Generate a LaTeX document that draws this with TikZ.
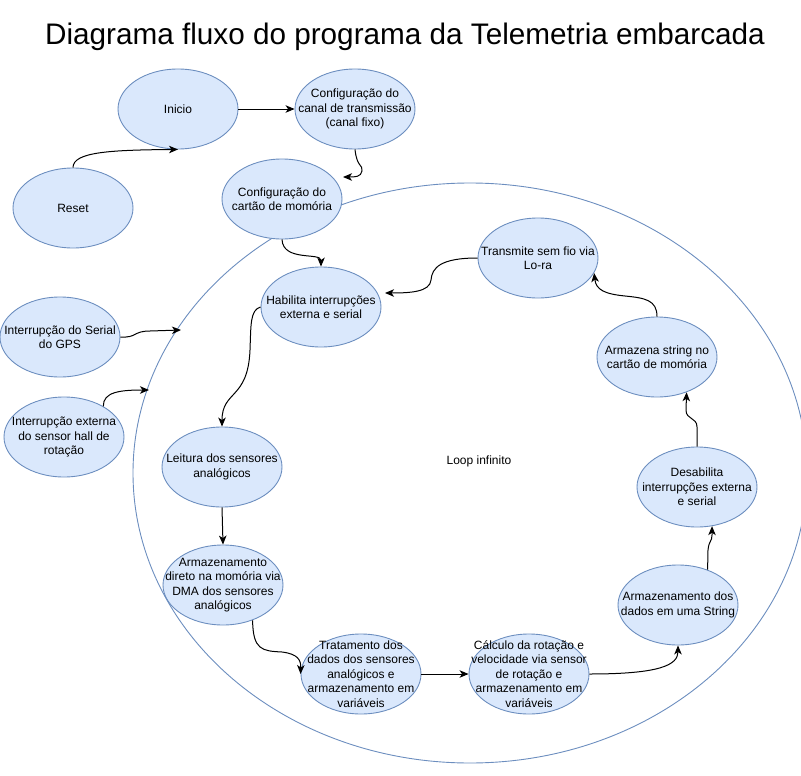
\documentclass[tikz,border=0pt]{standalone}
\usepackage{fontspec}
\setmainfont{Liberation Sans}
\usetikzlibrary{shapes.geometric,arrows.meta}
\definecolor{bfill}{HTML}{DAE8FC}
\definecolor{bstroke}{HTML}{6C8EBF}
\tikzset{
  bubble/.style={ellipse, draw=bstroke, fill=bfill, line width=0.9pt,
    minimum width=120pt, minimum height=80pt, inner sep=0pt,
    label={[align=center, inner sep=0pt, font=\fontsize{12}{14.4}\selectfont]center:#1}},
  conn/.style={draw=black, line width=1pt, -{Stealth[length=9pt,width=7.5pt,inset=2.5pt]}},
  bigloop/.style={ellipse, draw=bstroke, line width=0.9pt, minimum width=674pt, minimum height=580pt, inner sep=0pt},
}
\begin{document}
\begin{tikzpicture}[x=1pt,y=-1pt]
\useasboundingbox (0,0) rectangle (801,776);
\clip (0,0) rectangle (801,776);
\node[anchor=base, font=\fontsize{29.7}{34}\selectfont] (title) at (405,45) {Diagrama fluxo do programa da Telemetria embarcada};

\node[bubble={Armazenamento\\direto na momória via\\DMA dos sensores\\analógicos}] (arm) at (223,585) {};
\node[bigloop] (loop) at (470,473) {};
\node[font=\fontsize{12}{14.4}\selectfont] (looptxt) at (479,461) {Loop infinito};

\node[bubble={Inicio}] (inicio) at (178,109) {};
\node[bubble={Configuração do\\canal de transmissão\\(canal fixo)}] (canal) at (355,109) {};
\node[bubble={Configuração do\\cartão de momória}] (cartao) at (282,199) {};
\node[bubble={Reset}] (reset) at (73,208) {};
\node[bubble={Habilita interrupções\\externa e serial}] (hab) at (321,307) {};
\node[bubble={Interrupção do Serial\\do GPS}] (gps) at (60,337) {};
\node[bubble={Interrupção externa\\do sensor hall de\\rotação}] (ext) at (64,437) {};
\node[bubble={Leitura dos sensores\\analógicos}] (leit) at (222,467) {};
\node[bubble={Tratamento dos\\dados dos sensores\\analógicos e\\armazenamento em\\variáveis}] (trat) at (361,674) {};
\node[bubble={Cálculo da rotação e\\velocidade via sensor\\de rotação e\\armazenamento em\\variáveis}] (calc) at (529,674) {};
\node[bubble={Armazenamento dos\\dados em uma String}] (armd) at (678,605) {};
\node[bubble={Desabilita\\interrupções externa\\e serial}] (desab) at (697,487) {};
\node[bubble={Armazena string no\\cartão de momória}] (armstr) at (657,357) {};
\node[bubble={Transmite sem fio via\\Lo-ra}] (trans) at (538,258) {};

\coordinate (cT) at (343,177);
\coordinate (gpsT) at (181,330);
\coordinate (extT) at (149,390);
\coordinate (habT) at (385,293);

\draw[conn] (inicio.east) -- (canal.west);
\draw[conn] (reset.north) .. controls (73,152) and (110,150) .. (inicio.south);
\draw[conn] (canal.south) .. controls (357,168) and (363,164) .. (362,171) .. controls (361,177) and (355,177) .. (cT);
\draw[conn] (cartao.south) .. controls (283,262) and (321,252) .. (hab.north);
\draw[conn] (gps.east) .. controls (137,338) and (133,331) .. (150,331) -- (gpsT);
\draw[conn] (ext.38) .. controls (103,392) and (120,390) .. (extT);
\draw[conn] (hab.west) .. controls (250,310) and (251,325) .. (250,350) .. controls (248,400) and (222,390) .. (leit.north);
\draw[conn] (leit.south) -- (arm.north);
\draw[conn] (arm.-50) .. controls (253,650) and (262,651) .. (282,652) .. controls (298,654) and (301,660) .. (trat.west);
\draw[conn] (trat.east) -- (calc.west);
\draw[conn] (calc.east) .. controls (660,674) and (678,665) .. (armd.south);
\draw[conn] (armd.50) -- (708,550) .. controls (709,540) and (712,542) .. (712,535) -- (desab.-69);
\draw[conn] (desab.north) -- (697,427) .. controls (697,417) and (686,420) .. (686,410) -- (armstr.-50);
\draw[conn] (armstr.north) .. controls (657,300) and (645,298) .. (625,296) .. controls (605,294) and (596,290) .. (trans.-15);
\draw[conn] (trans.west) .. controls (440,258) and (432,268) .. (431,280) .. controls (430,292) and (410,293) .. (habT);
\end{tikzpicture}
\end{document}
